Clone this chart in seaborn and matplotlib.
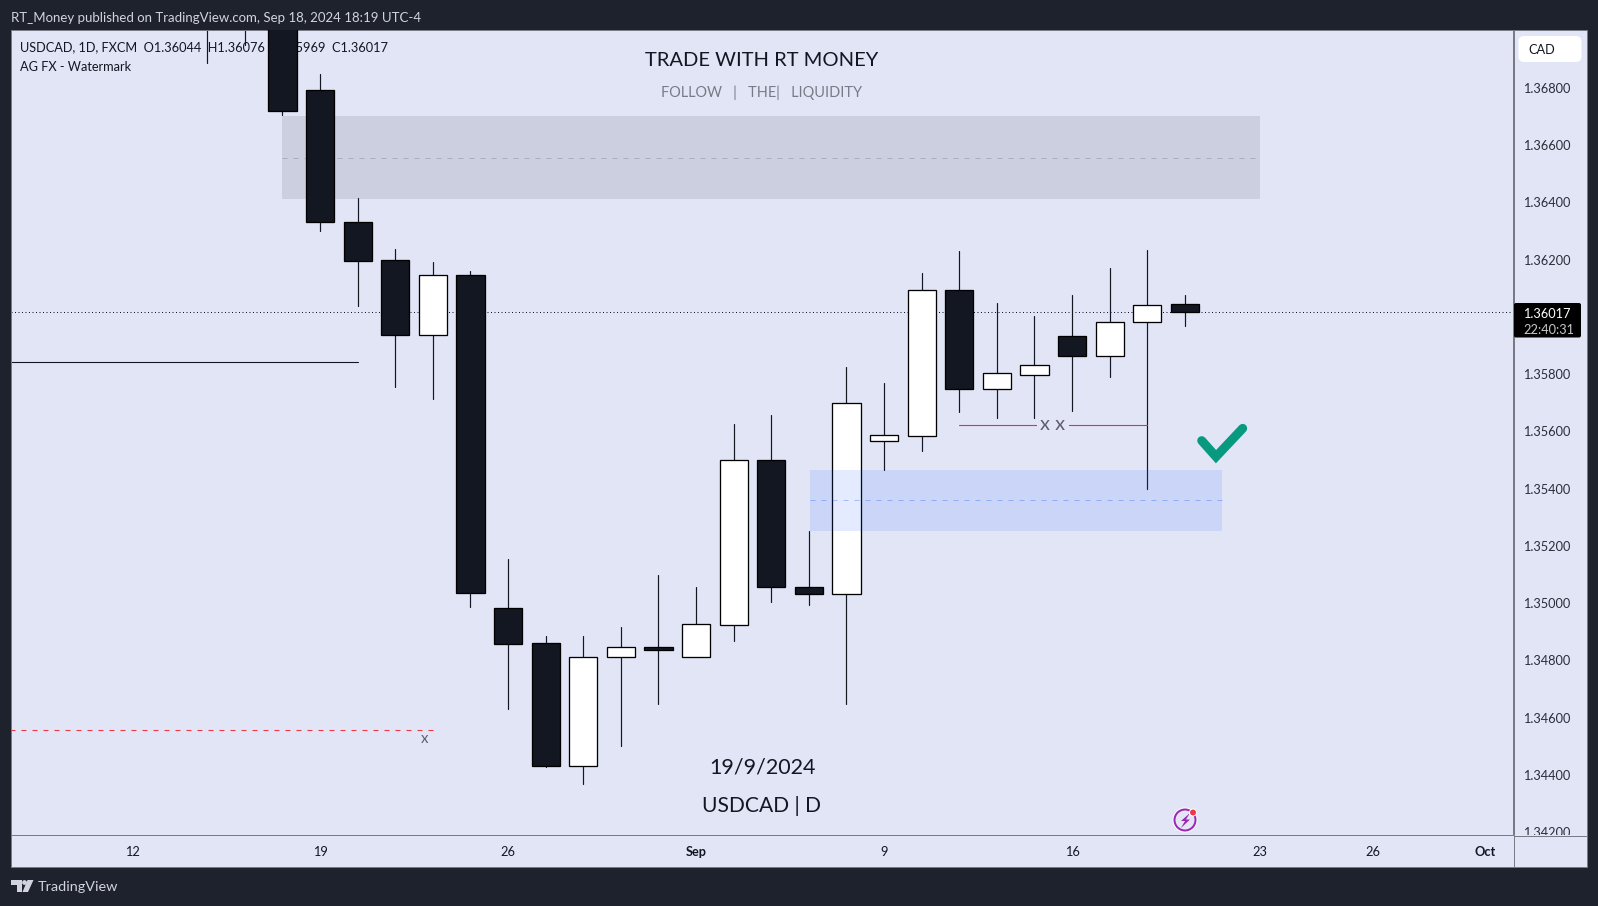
import pandas as pd
import matplotlib
matplotlib.use('Agg')
import matplotlib.pyplot as plt
from matplotlib.patches import FancyBboxPatch, Rectangle, Circle, Polygon
import seaborn as sns

# daily candles, Aug 14 to Sep 19 (the first ones run off the top of the pane)
dates = ['Aug 14','Aug 15','Aug 16','Aug 19','Aug 20','Aug 21','Aug 22','Aug 23','Aug 26','Aug 27','Aug 28','Aug 29','Aug 30',
         'Sep 2','Sep 3','Sep 4','Sep 5','Sep 6','Sep 9','Sep 10','Sep 11','Sep 12','Sep 13','Sep 16','Sep 17','Sep 18','Sep 19']
bar_no = [2,3,4,5,6,7,8,9,10,11,12,13,14,15,16,17,18,19,20,21,22,23,24,25,26,27,28]
opens = [1.3745,1.3738,1.3731,1.36793,1.36333,1.36198,1.35938,1.36148,1.34983,1.34862,1.34431,1.34812,1.34848,
         1.34812,1.34923,1.35500,1.35058,1.35033,1.35568,1.35585,1.36095,1.35749,1.35799,1.35934,1.35863,1.35981,1.36044]
highs = [1.3760,1.3752,1.3745,1.36850,1.36415,1.36237,1.36191,1.36162,1.35154,1.34884,1.34884,1.34916,1.35097,
         1.35055,1.35625,1.35657,1.35254,1.35824,1.35771,1.36155,1.36230,1.36048,1.36002,1.36077,1.36170,1.36234,1.36076]
lows = [1.36889,1.36950,1.36707,1.36301,1.36038,1.35756,1.35714,1.34987,1.34631,1.34428,1.34367,1.34503,1.34649,
        1.34812,1.34869,1.35005,1.34994,1.34649,1.35464,1.35532,1.35667,1.35646,1.35646,1.35671,1.35792,1.35400,1.35969]
closes = [1.3722,1.3735,1.36718,1.36333,1.36194,1.35938,1.36148,1.35037,1.34859,1.34431,1.34812,1.34848,1.34837,
          1.34926,1.35500,1.35055,1.35033,1.35699,1.35589,1.36095,1.35749,1.35803,1.35831,1.35863,1.35981,1.36041,1.36017]

# 1.36000 is hidden by the last price box in the picture
price_ticks = [1.368,1.366,1.364,1.362,1.358,1.356,1.354,1.352,1.350,1.348,1.346,1.344,1.342]
date_ticks = [0,5,10,15,20,25,30,33,36]
date_labels = ['12','19','26','Sep','9','16','23','26','Oct']

# drawn zones and levels
grey_zone = (4.0, 30, 1.36412, 1.36701, 1.36555)
blue_zone = (18.03, 29, 1.35253, 1.35466, 1.35360)
black_level = (-4, 6, 1.35842)
red_dash_level = (-4, 8, 1.34556)
red_level = (22, 27, 1.35622)
last_price = 1.36017
check_x = [28.45, 28.83, 29.54]
check_y = [1.35568, 1.35512, 1.35611]

BG = '#1e222d'
PANE = '#e1e5f6'
BORDER = '#787b86'
CANDLE = '#131722'
TICK_PX = 12.7

sns.set_theme(style='white')
plt.rcParams['font.family'] = ['Lato', 'DejaVu Sans']

W, H = 1598, 906
fig = plt.figure(figsize=(W / 100, H / 100), dpi=100, facecolor=BG)

def px(n):
    return n * 0.72

# strips behind the pane, pane from x 11 to 1513, y 30 to 835 in pixels
back = fig.add_axes([0, 0, 1, 1], facecolor='none', zorder=-1)
back.set_xlim(0, W)
back.set_ylim(H, 0)
back.axis('off')
back.add_patch(Rectangle((1513.5, 30), 73.5, 836.5, fc=PANE, ec=BORDER, lw=px(1)))
back.add_patch(Rectangle((11, 835), 1502.5, 31.5, fc=PANE, ec=BORDER, lw=px(1)))

ax = fig.add_axes([11 / W, 1 - 835 / H, (1513 - 11) / W, (835 - 30) / H], facecolor=PANE)
ov = fig.add_axes([0, 0, 1, 1], facecolor='none', zorder=5)
ov.set_xlim(0, W)
ov.set_ylim(H, 0)
ov.axis('off')
# the lowest price label is cut by the time strip
ov.add_patch(Rectangle((1514, 835), 72.5, 31, fc=PANE, ec='none'))
ov.plot([1513.5, 1587], [835.5, 835.5], color=BORDER, lw=px(1))
ov.plot([1513.5, 1513.5], [835, 866.5], color=BORDER, lw=px(1))

df = pd.DataFrame({'date': dates, 'bar': bar_no, 'open': opens, 'high': highs, 'low': lows, 'close': closes})
df['base'] = df[['open', 'close']].min(axis=1)
df['size'] = (df['open'] - df['close']).abs()
df['side'] = ['up' if c > o else 'down' for o, c in zip(opens, closes)]

# grey box goes under the candles, blue one over them
ax.fill_between(grey_zone[:2], grey_zone[2], grey_zone[3], color=BORDER, alpha=0.2, lw=0, zorder=1)
ax.plot(grey_zone[:2], [grey_zone[4]] * 2, color=BORDER, alpha=0.4, lw=px(1), dashes=(5, 6), zorder=1.1)

wicks = pd.concat([df[['bar', 'high']].rename(columns={'high': 'price'}),
                   df[['bar', 'low']].rename(columns={'low': 'price'})])
sns.lineplot(data=wicks, x='bar', y='price', units='bar', estimator=None, color=CANDLE,
             lw=px(1.2), legend=False, ax=ax, zorder=2, sort=False)
colors = {'up': 'white', 'down': CANDLE}
for side, part in df.groupby('side'):
    sns.barplot(data=part, x='bar', y='size', bottom=part['base'].values, color=colors[side],
                native_scale=True, width=0.75, saturation=1, errorbar=None,
                edgecolor='#000000', linewidth=px(1.3), ax=ax, zorder=3)

ax.fill_between(blue_zone[:2], blue_zone[2], blue_zone[3], color='#2962ff', alpha=0.12, lw=0, zorder=4)
ax.plot(blue_zone[:2], [blue_zone[4]] * 2, color='#2962ff', alpha=0.35, lw=px(1), dashes=(5, 6), zorder=4.1)

ax.plot(black_level[:2], [black_level[2]] * 2, color=CANDLE, lw=px(1.1), zorder=2)
ax.plot(red_dash_level[:2], [red_dash_level[2]] * 2, color='#f23645', lw=px(1.1), dashes=(4.5, 5.5), zorder=2)
ax.plot(red_level[:2], [red_level[2]] * 2, color='#e0324a', lw=px(1.1), zorder=2)
ax.axhline(last_price, color=CANDLE, lw=px(1), dashes=(1, 2.5), zorder=1.5)
ax.plot(check_x, check_y, color='#089981', lw=px(9), solid_joinstyle='miter', solid_capstyle='round', zorder=6)

ax.set_xlim((11 - 132) / 37.6, (1513 - 132) / 37.6)
ax.set_ylim(1.368 - (835 - 88) * 3.4935e-5, 1.368 + (88 - 30) * 3.4935e-5)
ax.set_xlabel('')
ax.set_ylabel('')
ax.yaxis.tick_right()
ax.set_yticks(price_ticks, ['%.5f' % p for p in price_ticks])
ax.set_xticks(date_ticks, date_labels)
ax.tick_params(axis='y', length=0, pad=px(10), labelsize=px(TICK_PX), labelcolor='#2a2e39')
ax.tick_params(axis='x', length=0, pad=px(11), labelsize=px(TICK_PX), labelcolor='#131722')
for lab in ax.get_xticklabels():
    lab.set_y(0)
    if lab.get_text() in ('Sep', 'Oct'):
        lab.set_fontweight('bold')
for lab in ax.get_yticklabels():
    lab.set_va('center_baseline')
for s in ax.spines.values():
    s.set_color(BORDER)
    s.set_linewidth(px(1))
ax.grid(False)

# legend lines sit under the candles
ax.text(20, 47, 'USDCAD, 1D, FXCM  O1.36044  H1.36076  L1.35969  C1.36017', transform=ov.transData,
        fontsize=px(TICK_PX), color='#131722', va='center', ha='left', zorder=1)
ax.text(20, 67, 'AG FX - Watermark', transform=ov.transData, fontsize=px(TICK_PX), color='#131722', va='center', zorder=1)

ax.text(762, 61, 'TRADE WITH RT MONEY', transform=ov.transData, fontsize=px(20.2), color='#131722', ha='center', va='center', zorder=7)
ax.text(762, 92.5, 'FOLLOW   |   THE|   LIQUIDITY', transform=ov.transData, fontsize=px(14.5), color='#787b86', ha='center', va='center', zorder=7)
ax.text(763, 768, '19/9/2024', transform=ov.transData, fontsize=px(21.5), color='#131722', ha='center', va='center', zorder=7)
ax.text(762, 806, 'USDCAD | D', transform=ov.transData, fontsize=px(21), color='#131722', ha='center', va='center', zorder=7)
ax.text(425, 739, 'x', transform=ov.transData, fontsize=px(15), color='#5d606b', ha='center', va='center', zorder=7)
ax.text(1053, 424.5, 'x x', transform=ov.transData, fontsize=px(20), color='#5d606b', ha='center', va='center', zorder=7,
        bbox=dict(fc=PANE, ec='none', boxstyle='square,pad=0.15'))

# top and bottom chrome
ov.text(11, 17.5, 'RT_Money published on TradingView.com, Sep 18, 2024 18:19 UTC-4', fontsize=px(13.3), color='#d1d4dc', va='center')
ov.text(37.5, 887, 'TradingView', fontsize=px(14.4), color='#d1d4dc', va='center')
ov.add_patch(Polygon([(11, 880), (22, 880), (22, 892), (16.5, 892), (16.5, 885), (11, 885)], fc='#d1d4dc', ec='none'))
ov.add_patch(Circle((24.5, 882.5), 2.4, fc='#d1d4dc', ec='none'))
ov.add_patch(Polygon([(27.5, 880), (33.5, 880), (28, 892), (22.5, 892)], fc='#d1d4dc', ec='none'))

ov.add_patch(FancyBboxPatch((1520, 37.5), 60, 23, boxstyle='round,pad=0,rounding_size=4', fc='white', ec='white', lw=px(3)))
ov.text(1528, 50, 'CAD', fontsize=px(TICK_PX), color='#131722', va='center')

ov.add_patch(FancyBboxPatch((1514, 303), 67, 34.5, boxstyle='round,pad=0,rounding_size=2', fc='black', ec='none'))
ov.text(1523.5, 314, '%.5f' % last_price, fontsize=px(TICK_PX), color='white', va='center')
ov.text(1523, 330, '22:40:31', fontsize=px(TICK_PX), color='#c8c8c8', va='center')

# the lightning badge
ov.add_patch(Circle((1185, 820), 12.5, fc='white', ec='none'))
ov.add_patch(Circle((1185, 820), 10.5, fc=PANE, ec='#9c27b0', lw=px(2)))
ov.add_patch(Polygon([(1190, 813), (1181, 821), (1185, 821), (1181, 828), (1190, 819.5), (1186, 819.5)], fc='#9c27b0', ec='none'))
ov.add_patch(Circle((1193, 812.5), 3.5, fc='#f23645', ec='white', lw=px(1)))

fig.savefig('out.png', dpi=100, facecolor=BG)
